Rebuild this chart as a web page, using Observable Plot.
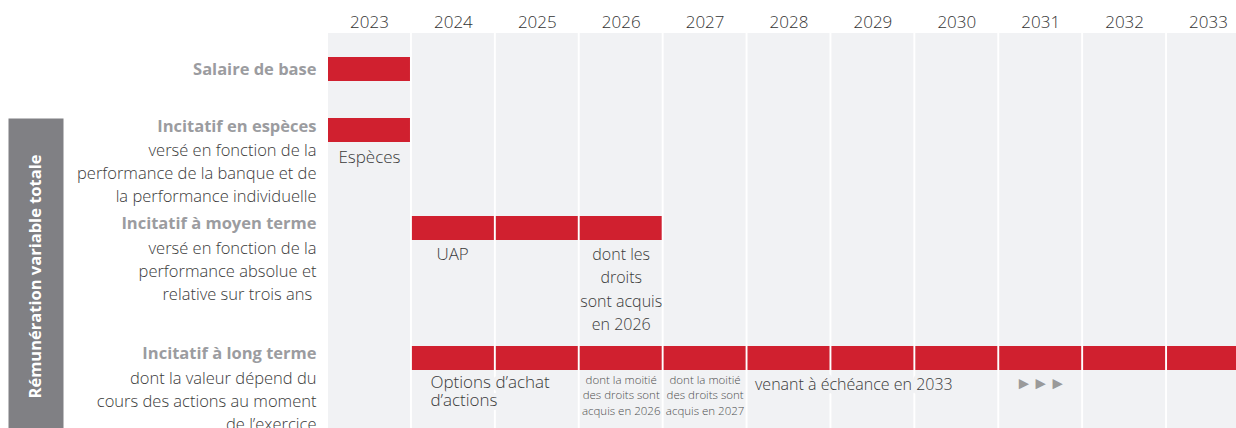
<!DOCTYPE html>
<html>
<head>
<meta charset="utf-8">
<script src="https://cdn.jsdelivr.net/npm/d3@7"></script>
<script src="https://cdn.jsdelivr.net/npm/@observablehq/plot@0.6"></script>
<style>
  html, body { margin: 0; padding: 0; background: #ffffff; overflow: hidden; }
  #chart svg { display: block; }
</style>
</head>
<body>
<div id="chart"></div>
<script>
// ---------- DATA ----------
const years = ["2023","2024","2025","2026","2027","2028","2029","2030","2031","2032","2033"];

const rowTitles = [
  "Salaire de base",
  "Incitatif en espèces",
  "Incitatif à moyen terme",
  "Incitatif à long terme"
];
const rowNotes = [
  "",
  "versé en fonction de la\nperformance de la banque et de\nla performance individuelle",
  "versé en fonction de la\nperformance absolue et\nrelative sur trois ans ",
  "dont la valeur dépend du\ncours des actions au moment\nde l’exercice"
];
const barStartYear = ["2023","2023","2024","2024"];
const barEndYear   = ["2023","2023","2026","2033"];

const groupLabel = "Rémunération variable totale";

const annoRow  = [1, 2, 2, 3, 3, 3, 3, 3];
const annoYear = ["2023","2024","2026","2024","2026","2027","2028","2031"];
const annoText = [
  "Espèces",
  "UAP",
  "dont les\ndroits\nsont acquis\nen 2026",
  "Options d’achat\nd’actions",
  "dont la moitié\ndes droits sont\nacquis en 2026",
  "dont la moitié\ndes droits sont\nacquis en 2027",
  "venant à échéance en 2033",
  "►►►"
];

// ---------- LAYOUT & STYLE (not data) ----------
const W = 1236, H = 428;
const L = {
  xRange: [328, 1249],
  padInner: 0.023,
  colTop: 33,
  yearY: 22,
  rowTop: [57, 118, 216, 346],
  barH: 24,
  titleOff: [12, 8, 7, 7],
  noteOff: 30,
  lineH: 23.2,
  labelGap: 12,
  band: { left: 8, right: 63 },
  bandLabelX: 35
};
const C = {
  red: "#d0202f",
  colBg: "#f1f2f4",
  title: "#9b9ca0",
  text: "#3a3a3a",
  year: "#333333",
  band: "#808084",
  arrow: "#9a9a9a",
  small: "#4f4f4f"
};
const annoStyle = [
  { anchor: "middle", off: 37, size: 17, lh: 23.2, fill: C.text },
  { anchor: "start", left: 24, off: 36, size: 17, lh: 23.2, fill: C.text },
  { anchor: "middle", off: 36, size: 16, lh: 23.4, fill: C.text },
  { anchor: "start", left: 18, off: 36, size: 17, lh: 18, fill: C.text, halo: true },
  { anchor: "middle", off: 32, size: 11.5, lh: 15.7, fill: C.small },
  { anchor: "middle", off: 32, size: 11.5, lh: 15.7, fill: C.small },
  { anchor: "start", left: 7, off: 36, size: 16, lh: 23.2, fill: C.text, halo: true },
  { anchor: "middle", off: 37, size: 17, lh: 18, fill: C.arrow }
];

const FONT = "'Open Sans', 'Noto Sans', sans-serif";

// band geometry (for offsets relative to column centre)
const step = (L.xRange[1] - L.xRange[0]) / (years.length - L.padInner);
const bw = step * (1 - L.padInner);

// ---------- DERIVED TABLES ----------
const barData = rowTitles.flatMap((r, i) =>
  years.filter(y => y >= barStartYear[i] && y <= barEndYear[i]).map(y => ({ row: i, year: y }))
);
const labelData = rowTitles.map((t, i) => ({ row: i, title: t, note: rowNotes[i] }));
const annoData = annoText.map((t, i) => ({ i, row: annoRow[i], year: annoYear[i], text: t, ...annoStyle[i] }));

const blockMid = (firstCentre, text, lh) => firstCentre + (text.split("\n").length - 1) * lh / 2;

const marks = [
  Plot.frame({ fill: C.band, stroke: null,
    insetLeft: L.band.left, insetRight: W - L.band.right, insetTop: L.rowTop[1], insetBottom: 0 }),
  Plot.text([groupLabel], { frameAnchor: "top-left", text: d => d, rotate: -90,
    dx: L.bandLabelX, dy: (L.rowTop[1] + H) / 2 + 3, fill: "#ffffff", fontWeight: 700, fontSize: 16.5,
    textAnchor: "middle", lineAnchor: "middle" }),
  Plot.barY(years, { x: d => d, y1: L.colTop, y2: H, fill: C.colBg }),
  Plot.text(years, { x: d => d, y: L.yearY, text: d => d, fontSize: 17, fill: C.year, fontWeight: 300 }),
  Plot.barY(barData, { x: "year", y1: d => L.rowTop[d.row], y2: d => L.rowTop[d.row] + L.barH, fill: C.red }),
  Plot.text(labelData, { x: () => years[0], y: d => L.rowTop[d.row] + L.titleOff[d.row], text: "title",
    textAnchor: "end", dx: -(bw / 2 + L.labelGap), fontWeight: 700, fontSize: 16.5, fill: C.title }),
  Plot.text(labelData.filter(d => d.note), { x: () => years[0],
    y: d => blockMid(L.rowTop[d.row] + L.noteOff, d.note, L.lineH), text: "note",
    textAnchor: "end", dx: -(bw / 2 + L.labelGap), fontSize: 16.5, fill: C.text, fontWeight: 300,
    lineHeight: L.lineH / 16.5 })
];

for (const a of annoData) {
  const opts = {
    x: "year",
    y: d => blockMid(L.rowTop[d.row] + d.off, d.text, d.lh),
    text: "text",
    textAnchor: a.anchor,
    dx: a.anchor === "start" ? -bw / 2 + a.left : 0,
    fontSize: a.size,
    lineHeight: a.lh / a.size,
    fill: a.fill,
    fontWeight: 300
  };
  if (a.halo) { opts.stroke = C.colBg; opts.strokeWidth = 8; opts.strokeLinejoin = "round"; }
  marks.push(Plot.text([a], opts));
}

const chart = Plot.plot({
  width: W,
  height: H,
  margin: 0,
  style: { fontFamily: FONT, background: "#ffffff", overflow: "hidden" },
  x: { type: "band", domain: years, range: L.xRange, paddingInner: L.padInner, paddingOuter: 0, align: 0.5, round: false, axis: null },
  y: { type: "identity", axis: null },
  marks
});
document.getElementById("chart").appendChild(chart);
</script>
</body>
</html>
